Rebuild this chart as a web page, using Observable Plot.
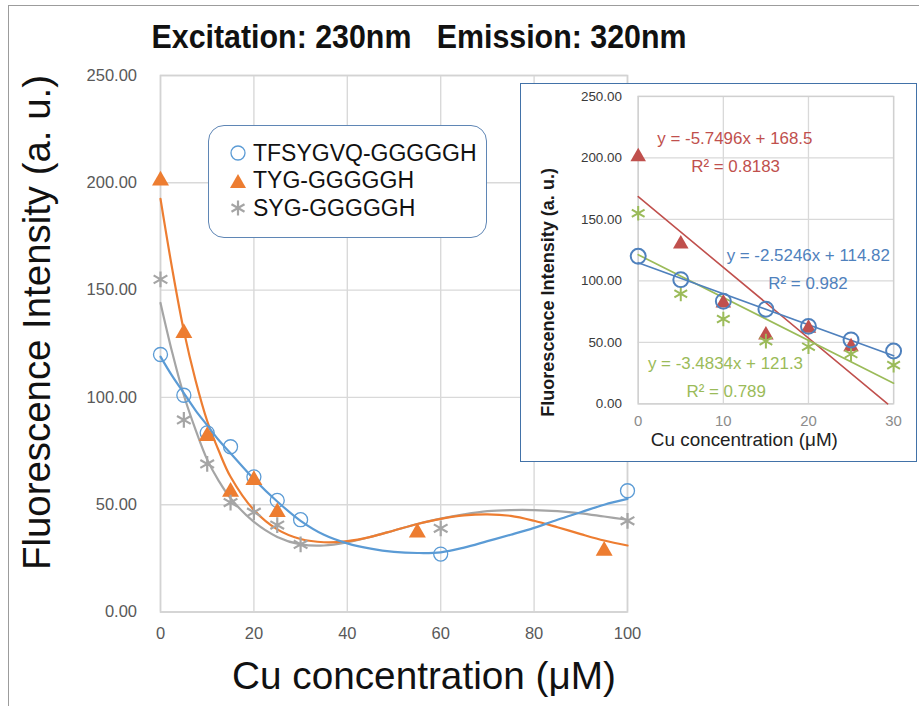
<!DOCTYPE html>
<html><head><meta charset="utf-8">
<script src="https://cdn.jsdelivr.net/npm/d3@7"></script>
<script src="https://cdn.jsdelivr.net/npm/@observablehq/plot@0.6"></script>
<style>
body{margin:0;background:#fff;font-family:"Liberation Sans",Arial,sans-serif;}
#wrap{position:relative;width:919px;height:706px;overflow:hidden;background:#fff;}
#frame{position:absolute;left:8px;top:5px;right:-10px;bottom:-10px;border-left:1.5px solid #9c9c9c;border-top:1.5px solid #9c9c9c;}
#main{position:absolute;left:0;top:0;}
#legend{position:absolute;left:208px;top:125px;width:279px;height:113px;box-sizing:border-box;border:1.5px solid #5f86b5;border-radius:16px;background:#fff;}
.lg{position:absolute;left:20px;height:28px;display:flex;align-items:center;font-size:23px;color:#111;white-space:nowrap;}
.lg svg{margin-right:6px;}
#inset{position:absolute;left:520px;top:83px;width:397px;height:379px;box-sizing:border-box;border:1.5px solid #4272a8;background:#fff;}
#inset svg{position:absolute;left:-1.5px;top:-1.5px;}
</style></head><body>
<div id="wrap"><div id="frame"></div><div id="main"></div>
<div id="legend"></div><div id="inset"></div></div>
<script>
// ---------- data ----------
const series = ["TFSYGVQ-GGGGGH", "TYG-GGGGGH", "SYG-GGGGGH"];
const conc = [0, 5, 10, 15, 20, 25, 30, 60, 100];
const tfsy = [120, 101, 83.5, 77, 63, 52, 43, 27, 56.5];
const tygX = [0, 5, 10, 15, 20, 25, 55, 95];
const tyg = [201, 130, 82, 56, 61.5, 46.5, 37, 28.5];
const syg = [155, 89.5, 69, 51, 46.5, 40.5, 31.5, 39, 42.5];
// fitted trend curves
const fitX =    [0, 2.5, 5, 7.5, 10, 12.5, 15, 20, 25, 30, 35, 40, 45, 50, 55, 60, 65, 70, 75, 80, 85, 90, 95, 100];
const fitTfsy = [119, 110, 102, 94, 87, 80, 74, 62, 51.5, 42.5, 36, 32, 29.5, 28, 27.5, 27.8, 30, 33, 36, 39.2, 43, 46.5, 50, 52.7];
const fitTyg =  [192.5, 160, 131, 108, 89, 75, 63, 47.5, 38.5, 34, 32.5, 33, 35, 38, 41, 43.4, 45, 45.5, 44.8, 42.5, 39.5, 36.3, 33.3, 31];
const fitSyg =  [144, 121, 101, 85, 71, 61, 53, 42, 35, 31.5, 31, 32.5, 35, 38, 41, 43.5, 45.5, 47, 47.5, 47.5, 47, 46, 44.5, 43];
const yTicks = [0, 50, 100, 150, 200, 250];
const xTicks = [0, 20, 40, 60, 80, 100];
const insetXTicks = [0, 10, 20, 30];
// inset linear trend lines (start/end)
const trendX0 = [0, 0, 0];
const trendY0 = [114.82, 168.5, 121.3];
const trendX1 = [30, 29.3, 30];
const trendY1 = [39.08, 0, 16.8];
const eqText = ["y = -2.5246x + 114.82", "y = -5.7496x + 168.5", "y = -3.4834x + 121.3"];
const r2Text = ["R\u00b2 = 0.982", "R\u00b2 = 0.8183", "R\u00b2 = 0.789"];
const titleText = "Excitation: 230nm   Emission: 320nm";
const xLabel = "Cu concentration (\u03bcM)";
const yLabel = "Fluorescence Intensity (a. u.)";

const mainColors = ["#5b9bd5", "#ed7d31", "#a5a5a5"];
const insetColors = ["#4f81bd", "#c0504d", "#9bbb59"];
const font = "'Liberation Sans', Arial, sans-serif";
const fmt = d3.format(".2f");

const rowsA = conc.map((x, i) => ({x, y: tfsy[i]}));
const rowsB = tygX.map((x, i) => ({x, y: tyg[i]}));
const rowsC = conc.map((x, i) => ({x, y: syg[i]}));
const fitA = fitX.map((x, i) => ({x, y: fitTfsy[i]}));
const fitB = fitX.map((x, i) => ({x, y: fitTyg[i]}));
const fitC = fitX.map((x, i) => ({x, y: fitSyg[i]}));

const label = (txt, dx, dy, opts) => Plot.text([txt], {text: d => d, frameAnchor: "top-left", dx, dy, textAnchor: "middle", lineAnchor: "middle", ...opts});

// ---------- main chart ----------
const mL = 160, mR = 292, mT = 75, mB = 94.5;
const main = Plot.plot({
  width: 919, height: 706,
  marginLeft: mL, marginRight: mR, marginTop: mT, marginBottom: mB,
  style: {fontFamily: font, background: "transparent", overflow: "visible"},
  x: {domain: [0, 100]}, y: {domain: [0, 250]},
  marks: [
    Plot.gridX(xTicks, {stroke: "#d9d9d9", strokeOpacity: 1, strokeWidth: 1.4}),
    Plot.gridY(yTicks, {stroke: "#d9d9d9", strokeOpacity: 1, strokeWidth: 1.4}),
    Plot.frame({stroke: "#d3d3d3", strokeWidth: 1.6}),
    Plot.axisY(yTicks, {tickFormat: fmt, tickSize: 0, tickPadding: 23.5, fontSize: 16.5, color: "#595959", label: null}),
    Plot.axisX(xTicks, {tickSize: 0, tickPadding: 15, fontSize: 16.5, color: "#595959", label: null}),
    Plot.line(fitC, {x: "x", y: "y", stroke: mainColors[2], strokeWidth: 2.2, curve: "catmull-rom"}),
    Plot.line(fitB, {x: "x", y: "y", stroke: mainColors[1], strokeWidth: 2.2, curve: "catmull-rom"}),
    Plot.line(fitA, {x: "x", y: "y", stroke: mainColors[0], strokeWidth: 2.2, curve: "catmull-rom"}),
    Plot.dot(rowsA, {x: "x", y: "y", r: 7, stroke: mainColors[0], strokeWidth: 1.3, fill: "none"}),
    Plot.dot(rowsB, {x: "x", y: "y", r: 6.3, symbol: "triangle", fill: mainColors[1]}),
    Plot.dot(rowsC, {x: "x", y: "y", r: 7.5, symbol: "asterisk", stroke: mainColors[2], strokeWidth: 2.2}),
    label(titleText, 418.5 - mL, 37 - mT, {fontSize: 33, fontWeight: "bold", fill: "#111"}),
    label(xLabel, 423.5 - mL, 676 - mT, {fontSize: 39, fill: "#111"}),
    label(yLabel, 37 - mL, 322 - mT, {rotate: -90, fontSize: 38, fill: "#111"})
  ]
});
document.getElementById("main").appendChild(main);
const fixLen = (svg, txt, len) => {
  svg.querySelectorAll("text").forEach(t => { if (t.textContent === txt) { t.setAttribute("textLength", len); t.setAttribute("lengthAdjust", "spacingAndGlyphs"); } });
};
fixLen(main, titleText, 535);
fixLen(main, xLabel, 384);
fixLen(main, yLabel, 495);

// ---------- legend ----------
const legend = document.getElementById("legend");
const sym = [
  `<svg width="18" height="18"><circle cx="9" cy="9" r="7" fill="none" stroke="${mainColors[0]}" stroke-width="1.3"/></svg>`,
  `<svg width="18" height="18"><polygon points="9,2 17,16 1,16" fill="${mainColors[1]}"/></svg>`,
  `<svg width="18" height="18"><g stroke="${mainColors[2]}" stroke-width="2.2"><line x1="9" y1="1.5" x2="9" y2="16.5"/><line x1="2.5" y1="5.2" x2="15.5" y2="12.8"/><line x1="2.5" y1="12.8" x2="15.5" y2="5.2"/></g></svg>`
];
series.forEach((s, i) => {
  const d = document.createElement("div");
  d.className = "lg";
  d.style.top = (13 + i * 27.5) + "px";
  d.innerHTML = sym[i] + `<span>${s}</span>`;
  legend.appendChild(d);
});

// ---------- inset ----------
const iA = rowsA.filter(d => d.x <= 30);
const iB = rowsB.filter(d => d.x <= 30);
const iC = rowsC.filter(d => d.x <= 30);
const trends = [0, 1, 2].map(i => [{x: trendX0[i], y: trendY0[i]}, {x: trendX1[i], y: trendY1[i]}]);
const iL = 118.3, iT = 13;
const inset = Plot.plot({
  width: 397, height: 379,
  marginLeft: iL, marginRight: 22, marginTop: iT, marginBottom: 57,
  style: {fontFamily: font, background: "transparent", overflow: "visible"},
  x: {domain: [0, 30]}, y: {domain: [0, 250]},
  marks: [
    Plot.gridX(insetXTicks, {stroke: "#d9d9d9", strokeOpacity: 1, strokeWidth: 1.3}),
    Plot.gridY(yTicks, {stroke: "#d9d9d9", strokeOpacity: 1, strokeWidth: 1.3}),
    Plot.frame({stroke: "#d0d0d0", strokeWidth: 1.4}),
    Plot.axisY(yTicks, {tickFormat: fmt, tickSize: 0, tickPadding: 16.3, fontSize: 13.5, color: "#3a3a3a", label: null}),
    Plot.axisX(insetXTicks, {tickSize: 0, tickPadding: 11.3, fontSize: 15, color: "#8c8c8c", label: null}),
    Plot.line(trends[1], {x: "x", y: "y", stroke: insetColors[1], strokeWidth: 1.6}),
    Plot.line(trends[2], {x: "x", y: "y", stroke: insetColors[2], strokeWidth: 1.6}),
    Plot.line(trends[0], {x: "x", y: "y", stroke: insetColors[0], strokeWidth: 1.6}),
    Plot.dot(iB, {x: "x", y: "y", r: 5.8, symbol: "triangle", fill: insetColors[1]}),
    Plot.dot(iC, {x: "x", y: "y", r: 7, symbol: "asterisk", stroke: insetColors[2], strokeWidth: 2}),
    Plot.dot(iA, {x: "x", y: "y", r: 7.5, stroke: insetColors[0], strokeWidth: 2, fill: "none"}),
    label(eqText[1], 97.2, 42, {fontSize: 17, fill: insetColors[1]}),
    label(r2Text[1], 97.9, 70.7, {fontSize: 17, fill: insetColors[1]}),
    label(eqText[0], 170.9, 160, {fontSize: 17, fill: insetColors[0]}),
    label(r2Text[0], 170.7, 188, {fontSize: 17, fill: insetColors[0]}),
    label(eqText[2], 87.7, 269, {fontSize: 17, fill: insetColors[2]}),
    label(r2Text[2], 88.4, 297, {fontSize: 17, fill: insetColors[2]}),
    label(xLabel, 745 - 520 - iL, 441.7 - 83 - iT, {fontSize: 18.5, fill: "#222"}),
    label(yLabel, 548.3 - 520 - iL, 293 - 83 - iT, {rotate: -90, fontSize: 18, fontWeight: "bold", fill: "#1a1a1a"})
  ]
});
document.getElementById("inset").appendChild(inset);
fixLen(inset, xLabel, 188);
fixLen(inset, yLabel, 250);
</script>
</body></html>
